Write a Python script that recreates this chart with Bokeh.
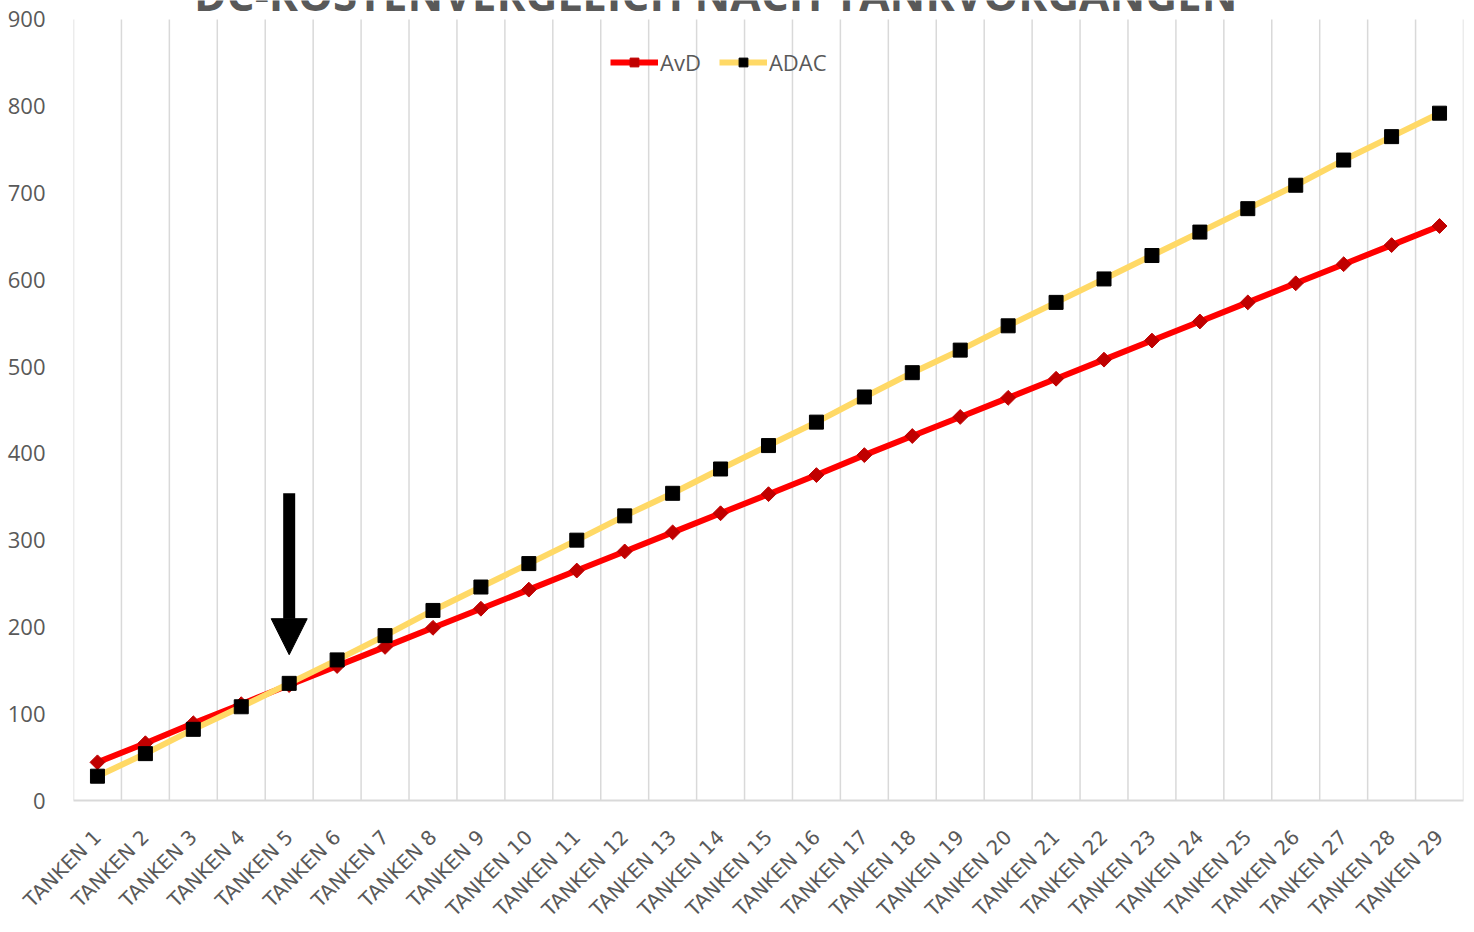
import math
from bokeh.plotting import figure
from bokeh.models import (ColumnDataSource, FactorRange, Range1d, Legend, LegendItem,
                          Arrow, NormalHead, FixedTicker)
from bokeh.core.properties import value
from bokeh.embed import file_html
from bokeh.resources import INLINE

title_text = "DC-KOSTENVERGLEICH NACH TANKVORGÄNGEN"

categories = ["TANKEN 1", "TANKEN 2", "TANKEN 3", "TANKEN 4", "TANKEN 5", "TANKEN 6",
              "TANKEN 7", "TANKEN 8", "TANKEN 9", "TANKEN 10", "TANKEN 11", "TANKEN 12",
              "TANKEN 13", "TANKEN 14", "TANKEN 15", "TANKEN 16", "TANKEN 17", "TANKEN 18",
              "TANKEN 19", "TANKEN 20", "TANKEN 21", "TANKEN 22", "TANKEN 23", "TANKEN 24",
              "TANKEN 25", "TANKEN 26", "TANKEN 27", "TANKEN 28", "TANKEN 29"]

avd = [44, 66, 89, 111, 133, 155, 177, 199, 221, 243, 265, 287, 309, 331, 353,
       375, 398, 420, 442, 464, 486, 508, 530, 552, 574, 596, 618, 640, 662]

adac = [28, 54, 82, 108, 135, 162, 190, 219, 246, 273, 300, 328, 354, 382, 409,
        436, 465, 493, 519, 547, 574, 601, 628, 655, 682, 709, 738, 765, 792]

y_ticks = [0, 100, 200, 300, 400, 500, 600, 700, 800, 900]

# arrow pointing at the crossover (category, top value, tip value)
arrow_category = "TANKEN 5"
arrow_y = [354, 168]

GRAY = "#595959"
GRID = "#D9D9D9"

W, H = 1474, 932
LEFT, RIGHT, BOTTOM = 73, 11, 131
TOP_GAP = 19                       # pixels between canvas top and the 900 line
frame_h = H - BOTTOM
px_per_unit = (frame_h - TOP_GAP) / (y_ticks[-1] - y_ticks[0])
y_top = y_ticks[0] + frame_h / px_per_unit   # frame reaches the canvas top (title is clipped)

src = ColumnDataSource(dict(cat=categories, avd=avd, adac=adac))

p = figure(x_range=FactorRange(factors=categories, range_padding=0),
           y_range=Range1d(y_ticks[0], y_top),
           width=W, height=H, output_backend="svg", toolbar_location=None,
           min_border_left=LEFT, min_border_right=RIGHT,
           min_border_top=0, min_border_bottom=BOTTOM)
p.outline_line_color = None
p.background_fill_color = "white"
p.border_fill_color = "white"
p.xgrid.visible = False
p.ygrid.visible = False

# vertical gridlines at category boundaries, from 0 to the top tick
n = len(categories)
bounds = list(range(n + 1))
gsrc = ColumnDataSource(dict(x=bounds, y0=[y_ticks[0]] * (n + 1), y1=[y_ticks[-1]] * (n + 1)))
p.segment(x0="x", y0="y0", x1="x", y1="y1", source=gsrc, line_color=GRID, line_width=1.5)

# axes
xa = p.xaxis[0]
xa.axis_line_color = GRID
xa.axis_line_width = 2
xa.major_tick_line_color = None
xa.minor_tick_line_color = None
xa.major_label_orientation = math.pi / 4
xa.major_label_text_color = GRAY
xa.major_label_text_font = "DejaVu Sans"
xa.major_label_text_font_size = "20px"
xa.major_label_standoff = 27

ya = p.yaxis[0]
ya.ticker = FixedTicker(ticks=y_ticks)
ya.axis_line_color = None
ya.major_tick_line_color = None
ya.minor_tick_line_color = None
ya.major_label_text_color = GRAY
ya.major_label_text_font = "Open Sans"
ya.major_label_text_font_size = "22px"
ya.major_label_standoff = 22

# series
r1 = p.line(x="cat", y="avd", source=src, line_color="#FF0000", line_width=6)
r1m = p.scatter(x="cat", y="avd", source=src, marker="square", angle=math.pi / 4,
                size=10.5, fill_color="#C00000", line_color="#C00000")
r2 = p.line(x="cat", y="adac", source=src, line_color="#FFD966", line_width=6)
r2m = p.scatter(x="cat", y="adac", source=src, marker="square", size=14,
                fill_color="black", line_color="black")

legend = Legend(items=[LegendItem(label="AvD", renderers=[r1, r1m]),
                       LegendItem(label="ADAC", renderers=[r2, r2m])],
                orientation="horizontal", location=(537, 723),
                border_line_color=None, background_fill_alpha=0,
                label_text_color=GRAY, label_text_font="Open Sans",
                label_text_font_size="22px", glyph_width=48, glyph_height=22,
                label_standoff=2, spacing=18, padding=0, margin=0)
p.add_layout(legend)

# arrow (body + head)
ax = categories.index(arrow_category) + 0.5
head_size = 36
head_base = arrow_y[1] + head_size / px_per_unit
p.add_layout(Arrow(end=None, x_start=ax, y_start=arrow_y[0], x_end=ax, y_end=head_base,
                   line_color="black", line_width=12))
p.add_layout(Arrow(end=NormalHead(size=head_size, fill_color="black", line_color="black",
                                  line_width=1),
                   x_start=ax, y_start=arrow_y[1] + 3, x_end=ax, y_end=arrow_y[1],
                   line_alpha=0, line_width=1))

# title, clipped at the top edge like the reference
title_y = y_top - 12 / px_per_unit
p.text(x=[13.4], y=[title_y], text=[title_text], text_align="center",
       text_baseline="alphabetic", text_font=value("Open Sans"),
       text_font_style="bold", text_font_size="44px", text_color=GRAY,
       y_offset=-18)

open("out.html", "w").write(file_html(p, INLINE))
